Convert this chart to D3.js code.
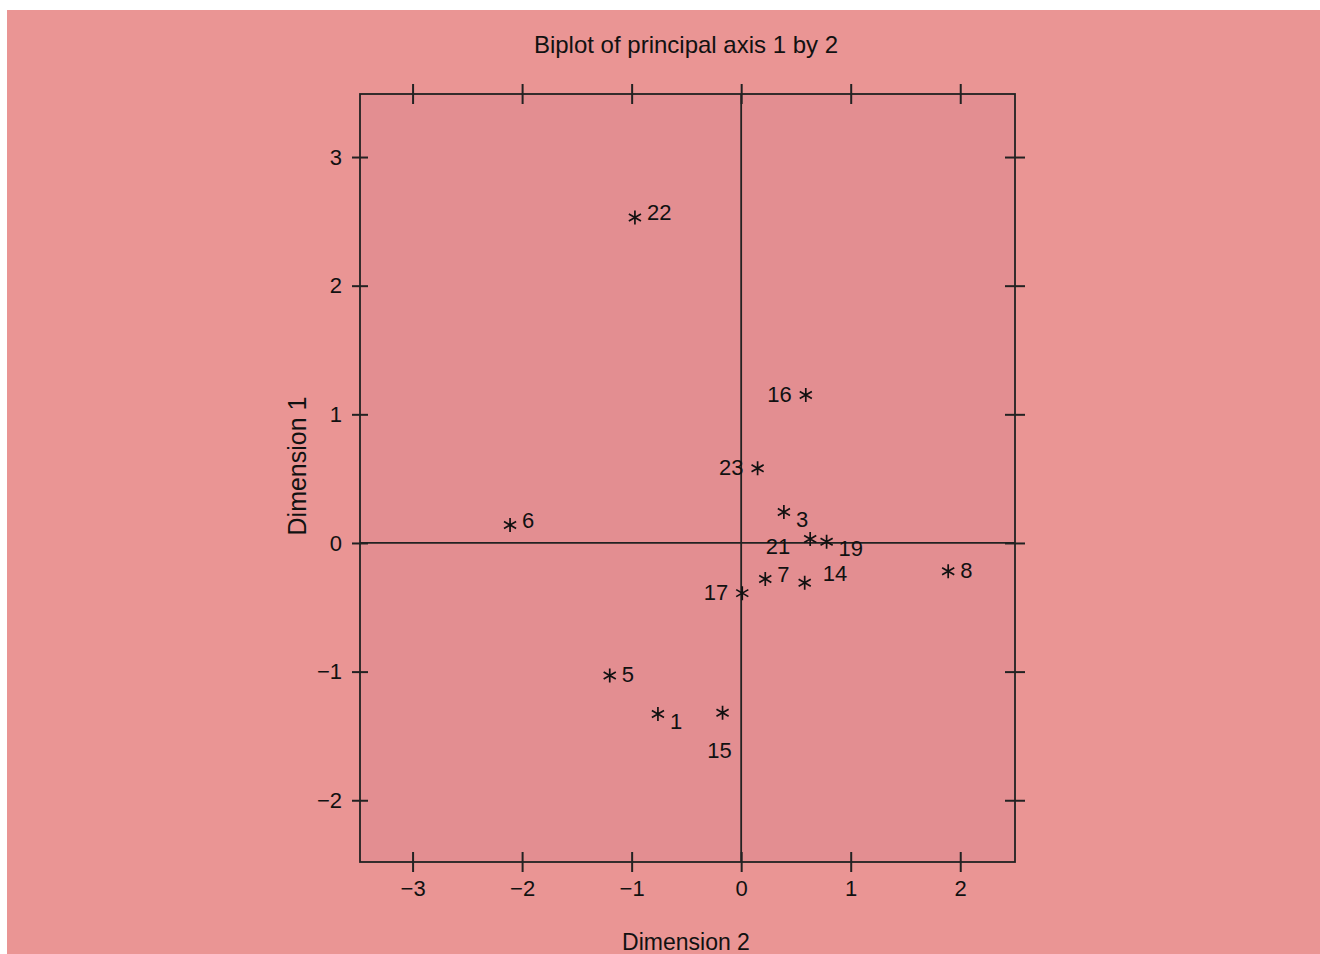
<!DOCTYPE html>
<html>
<head>
<meta charset="utf-8">
<script src="https://cdn.jsdelivr.net/npm/d3@7"></script>
<style>
  body { margin: 0; background: #ffffff; }
  svg { display: block; }
  text { font-family: "Liberation Sans", Arial, sans-serif; fill: #111; }
</style>
</head>
<body>
<svg id="chart" width="1320" height="954"></svg>
<script>
// biplot points: dimension 2 (x), dimension 1 (y)
let pointIds = ["22", "16", "23", "6", "3", "21", "19", "7", "14", "17", "8", "5", "1", "15"];
let dim2 = [-0.97, 0.59, 0.15, -2.11, 0.39, 0.63, 0.78, 0.22, 0.58, 0.01, 1.89, -1.20, -0.76, -0.17];
let dim1 = [2.53, 1.15, 0.58, 0.14, 0.24, 0.03, 0.01, -0.28, -0.31, -0.39, -0.22, -1.03, -1.33, -1.32];
// where the label sits relative to the star
let labelSide = ["ru", "l", "l", "ru", "rb", "lb", "rb", "ru", "rU", "l", "r", "r", "rb", "b"];

let xTicks = [-3, -2, -1, 0, 1, 2];
let yTicks = [-2, -1, 0, 1, 2, 3];

let svg = d3.select("#chart");

// outer pink page (white strip left and top like the scan)
svg.append("rect")
    .attr("x", 7).attr("y", 10)
    .attr("width", 1313).attr("height", 944)
    .style("fill", "#ea9594");

let plotLeft = 360, plotRight = 1015, plotTop = 94, plotBottom = 862;

let x = d3.scaleLinear().domain([-3.48, 2.5]).range([plotLeft, plotRight]);
let y = d3.scaleLinear().domain([-2.48, 3.49]).range([plotBottom, plotTop]);

svg.append("rect")
    .attr("x", plotLeft).attr("y", plotTop)
    .attr("width", plotRight - plotLeft).attr("height", plotBottom - plotTop)
    .style("fill", "#e38e91")
    .style("stroke", "#222")
    .style("stroke-width", 1.8);

// reference lines through origin
svg.append("line")
    .attr("x1", plotLeft).attr("x2", plotRight)
    .attr("y1", y(0)).attr("y2", y(0))
    .style("stroke", "#222").style("stroke-width", 1.8);
svg.append("line")
    .attr("x1", x(0)).attr("x2", x(0))
    .attr("y1", plotTop).attr("y2", plotBottom)
    .style("stroke", "#222").style("stroke-width", 1.8);

function minusFmt(d){
    return d < 0 ? "\u2212" + Math.abs(d) : String(d);
}

// axes: ticks cross the frame on all four sides
let tickLen = 10;
let axBottom = svg.append("g").attr("transform", "translate(0," + plotBottom + ")")
    .call(d3.axisBottom(x).tickValues(xTicks).tickSize(tickLen).tickPadding(8).tickFormat(minusFmt));
let axTop = svg.append("g").attr("transform", "translate(0," + plotTop + ")")
    .call(d3.axisTop(x).tickValues(xTicks).tickSize(tickLen).tickFormat(""));
let axLeft = svg.append("g").attr("transform", "translate(" + plotLeft + ",0)")
    .call(d3.axisLeft(y).tickValues(yTicks).tickSize(tickLen).tickPadding(8).tickFormat(minusFmt));
let axRight = svg.append("g").attr("transform", "translate(" + plotRight + ",0)")
    .call(d3.axisRight(y).tickValues(yTicks).tickSize(tickLen).tickFormat(""));

[axBottom, axTop, axLeft, axRight].forEach(function(ax){
    ax.select(".domain").remove();
    ax.selectAll(".tick line").style("stroke", "#222").style("stroke-width", 2);
    ax.selectAll(".tick text").style("font-size", "22px").style("fill", "#111")
        .style("font-family", "'Liberation Sans', Arial, sans-serif");
});
// extend ticks inward too
axBottom.selectAll(".tick line").attr("y1", -tickLen);
axTop.selectAll(".tick line").attr("y1", tickLen);
axLeft.selectAll(".tick line").attr("x1", tickLen * 0.8).attr("x2", -tickLen * 0.8);
axRight.selectAll(".tick line").attr("x1", -tickLen);

// asterisk markers
function starPath(r){
    let t = r / 2, u = t * Math.sqrt(3);
    return "M0," + r + "L0," + (-r) +
        "M" + (-u) + "," + (-t) + "L" + u + "," + t +
        "M" + (-u) + "," + t + "L" + u + "," + (-t);
}

let pts = pointIds.map(function(id, i){
    return {id: id, x: dim2[i], y: dim1[i], side: labelSide[i]};
});

svg.append("g").selectAll("path")
    .data(pts).enter().append("path")
    .attr("transform", function(d){ return "translate(" + x(d.x) + "," + y(d.y) + ")"; })
    .attr("d", starPath(7))
    .style("fill", "none")
    .style("stroke", "#111")
    .style("stroke-width", 1.7);

let offsets = {
    "r":  {dx: 12, dy: -1, anchor: "start"},
    "ru": {dx: 12, dy: -5, anchor: "start"},
    "rU": {dx: 18, dy: -10, anchor: "start"},
    "l":  {dx: -14, dy: -1, anchor: "end"},
    "rb": {dx: 12, dy: 7, anchor: "start"},
    "lb": {dx: -20, dy: 7, anchor: "end"},
    "b":  {dx: -3, dy: 38, anchor: "middle"}
};

svg.append("g").selectAll("text")
    .data(pts).enter().append("text")
    .attr("x", function(d){ return x(d.x) + offsets[d.side].dx; })
    .attr("y", function(d){ return y(d.y) + offsets[d.side].dy; })
    .attr("dy", "0.35em")
    .attr("text-anchor", function(d){ return offsets[d.side].anchor; })
    .style("font-size", "22px")
    .text(function(d){ return d.id; });

// titles
svg.append("text")
    .attr("x", 686).attr("y", 53)
    .attr("text-anchor", "middle")
    .style("font-size", "24px")
    .text("Biplot of principal axis 1 by 2");

svg.append("text")
    .attr("x", 686).attr("y", 950)
    .attr("text-anchor", "middle")
    .style("font-size", "23px")
    .text("Dimension 2");

svg.append("text")
    .attr("transform", "translate(306,466) rotate(-90)")
    .attr("text-anchor", "middle")
    .style("font-size", "25px")
    .text("Dimension 1");
</script>
</body>
</html>
